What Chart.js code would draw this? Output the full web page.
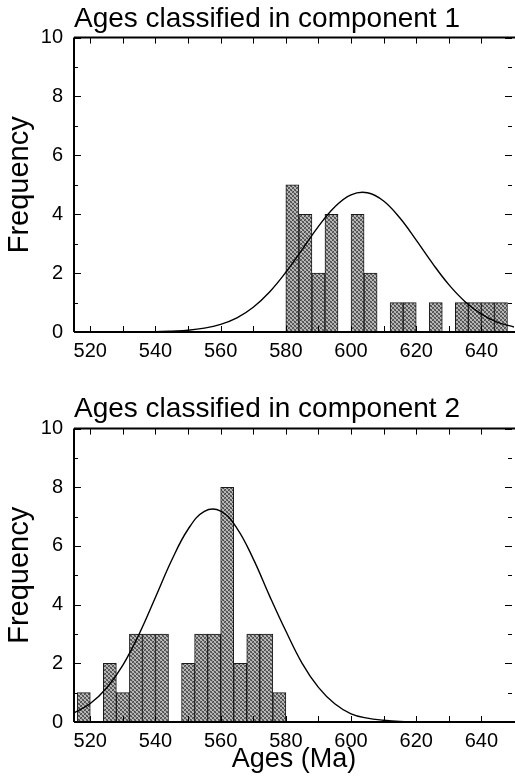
<!DOCTYPE html>
<html>
<head>
<meta charset="utf-8">
<script src="https://cdn.jsdelivr.net/npm/chart.js@4.4.1/dist/chart.umd.min.js"></script>
<style>
  body { margin: 0; background: #fff; }
  canvas { display: block; }
</style>
</head>
<body>
<canvas id="comp1" width="515" height="390"></canvas>
<canvas id="comp2" width="515" height="387"></canvas>
<script>
// x ticks and y ticks
const xTickLabels = [520, 540, 560, 580, 600, 620, 640];
const yTickLabels = [0, 2, 4, 6, 8, 10];

// component 1 histogram (4 Ma bins, bin start)
const bins1 = [580, 584, 588, 592, 596, 600, 604, 608, 612, 616, 620, 624, 628, 632, 636, 640, 644];
const counts1 = [5, 4, 2, 4, 0, 4, 2, 0, 1, 1, 0, 1, 0, 1, 1, 1, 1];

// component 2 histogram
const bins2 = [516, 520, 524, 528, 532, 536, 540, 544, 548, 552, 556, 560, 564, 568, 572, 576];
const counts2 = [1, 0, 2, 1, 3, 3, 3, 0, 2, 3, 3, 8, 2, 3, 3, 1];

// fitted curves
const curveAges = [515, 520, 525, 530, 535, 540, 545, 550, 555, 560, 565, 570, 575, 580,
  585, 590, 595, 600, 605, 610, 615, 620, 625, 630, 635, 640, 645, 650];
const curve1 = [0, 0, 0, 0, 0.01, 0.01, 0.03, 0.06, 0.13, 0.26, 0.48, 0.84, 1.36, 2.03,
  2.8, 3.59, 4.25, 4.66, 4.73, 4.45, 3.87, 3.12, 2.33, 1.61, 1.03, 0.61, 0.33, 0.17];
const curve2 = [0.31, 0.63, 1.16, 1.94, 3.0, 4.25, 5.52, 6.57, 7.18, 7.19, 6.6, 5.56, 4.3, 3.1,
  2.0, 1.18, 0.62, 0.28, 0.13, 0.06, 0.02, 0.01, 0, 0, 0, 0, 0, 0];

const FONT = "'Liberation Sans', Arial, Helvetica, sans-serif";

// stippled grey fill like the printed bars
function makePattern() {
  const c = document.createElement('canvas');
  c.width = 4; c.height = 4;
  const g = c.getContext('2d');
  const m = [[0, 2, 1, 3], [3, 1, 0, 2], [1, 3, 2, 0], [2, 0, 3, 1]];
  const cols = ['#4a4a4a', '#a8a8a8', '#6c6c6c', '#c2c2c2'];
  for (let i = 0; i < 4; i++) {
    for (let j = 0; j < 4; j++) {
      g.fillStyle = cols[m[j][i]];
      g.fillRect(i, j, 1, 1);
    }
  }
  return g.createPattern(c, 'repeat');
}
const stipple = makePattern();

// box + inward ticks
const framePlugin = {
  id: 'frame',
  afterDraw(chart) {
    const { ctx, chartArea: a, scales } = chart;
    const xs = scales.x, ys = scales.y;
    ctx.save();
    ctx.setLineDash([]);
    ctx.strokeStyle = '#000';
    ctx.lineWidth = 2;
    ctx.beginPath();
    ctx.moveTo(a.left, a.top);
    ctx.lineTo(a.right + 1, a.top);
    ctx.moveTo(a.left, a.top);
    ctx.lineTo(a.left, a.bottom);
    ctx.moveTo(a.left, a.bottom);
    ctx.lineTo(a.right + 1, a.bottom);
    ctx.stroke();
    ctx.lineWidth = 1;
    ctx.beginPath();
    for (let v = 520; v <= 640; v += 10) {
      const px = Math.round(xs.getPixelForValue(v)) + 0.5;
      ctx.moveTo(px, a.bottom); ctx.lineTo(px, a.bottom - 6);
      ctx.moveTo(px, a.top); ctx.lineTo(px, a.top + 6);
    }
    for (let v = 0; v <= 10; v += 1) {
      const py = Math.round(ys.getPixelForValue(v)) + 0.5;
      const len = v % 2 === 0 ? 7 : 4;
      ctx.moveTo(a.left, py); ctx.lineTo(a.left + len, py);
      ctx.moveTo(a.right - 2, py); ctx.lineTo(a.right - 2 - len, py);
    }
    ctx.stroke();
    ctx.restore();
  }
};

function makeChart(id, title, bins, counts, curve, showXTitle, canvasH, titlePad) {
  const barData = bins.map((b, i) => ({ x: b + 2, y: counts[i] }));
  const lineData = curveAges.map((a, i) => ({ x: a, y: curve[i] }));
  return new Chart(document.getElementById(id).getContext('2d'), {
    type: 'bar',
    data: {
      datasets: [
        {
          type: 'line',
          data: lineData,
          borderColor: '#000',
          borderWidth: 1.4,
          pointRadius: 0,
          tension: 0.4,
          fill: false,
          order: 0
        },
        {
          type: 'bar',
          data: barData,
          backgroundColor: stipple,
          borderColor: '#1a1a1a',
          borderWidth: 1,
          barPercentage: 1,
          categoryPercentage: 1,
          order: 1
        }
      ]
    },
    options: {
      responsive: false,
      animation: false,
      devicePixelRatio: 1,
      layout: { padding: { left: 0, right: 1, top: 0, bottom: 0 } },
      plugins: {
        legend: { display: false },
        tooltip: { enabled: false },
        title: {
          display: true,
          text: title,
          align: 'start',
          fullSize: false,
          color: '#000',
          font: { family: FONT, size: 28, weight: 'normal' },
          padding: titlePad
        }
      },
      scales: {
        x: {
          type: 'linear',
          min: 515,
          max: 650,
          offset: false,
          grid: { display: false, drawTicks: false, offset: false },
          border: { display: false },
          afterBuildTicks: s => { s.ticks = xTickLabels.map(v => ({ value: v })); },
          afterFit: s => { s.height = canvasH - 332; },
          ticks: {
            color: '#000',
            padding: 7,
            maxRotation: 0,
            font: { family: FONT, size: 20 }
          },
          title: {
            display: showXTitle,
            text: 'Ages (Ma)',
            color: '#000',
            font: { family: FONT, size: 27 },
            padding: { top: 0, bottom: 1 }
          }
        },
        y: {
          min: 0,
          max: 10,
          grid: { display: false, drawTicks: false },
          border: { display: false },
          afterBuildTicks: s => { s.ticks = yTickLabels.map(v => ({ value: v })); },
          afterFit: s => { s.width = 74; },
          ticks: {
            color: '#000',
            padding: 11,
            font: { family: FONT, size: 20 }
          },
          title: {
            display: true,
            text: 'Frequency',
            color: '#000',
            font: { family: FONT, size: 29 },
            padding: { top: 3, bottom: 0 }
          }
        }
      }
    },
    plugins: [framePlugin]
  });
}

makeChart('comp1', 'Ages classified in component 1', bins1, counts1, curve1, false, 390, { top: 2, bottom: 2 });
makeChart('comp2', 'Ages classified in component 2', bins2, counts2, curve2, true, 387, { top: 2, bottom: 3 });
</script>
</body>
</html>
